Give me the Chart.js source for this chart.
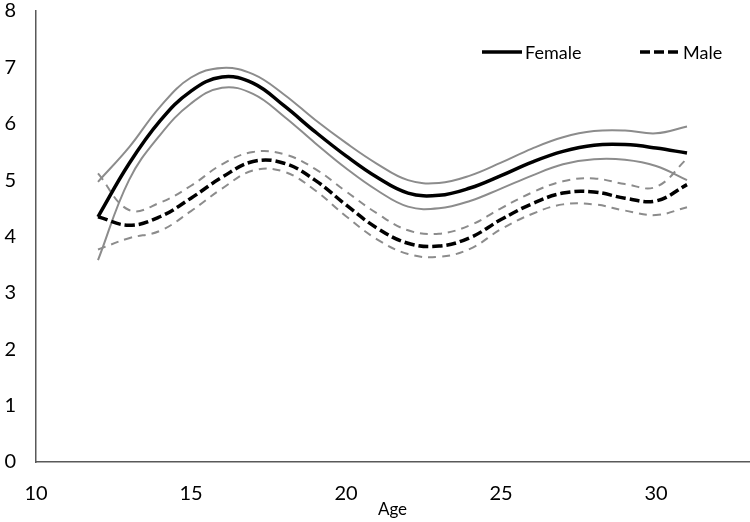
<!DOCTYPE html>
<html>
<head>
<meta charset="utf-8">
<script src="https://cdn.jsdelivr.net/npm/chart.js@4.4.1/dist/chart.umd.min.js"></script>
<style>
  html, body { margin: 0; padding: 0; background: #fff; }
  #wrap { width: 750px; height: 522px; }
</style>
</head>
<body>
<div id="wrap"><canvas id="chart" width="750" height="522"></canvas></div>
<script>
const ages = [12, 13, 14, 15, 16, 17, 18, 19, 20, 21, 22, 23, 24, 25, 26, 27, 28, 29, 30, 31];

const female      = [4.35, 5.29, 6.05, 6.58, 6.83, 6.72, 6.32, 5.86, 5.43, 5.05, 4.77, 4.73, 4.86, 5.08, 5.32, 5.51, 5.62, 5.63, 5.57, 5.48];
const femaleUpper = [4.97, 5.58, 6.30, 6.82, 6.99, 6.88, 6.52, 6.07, 5.66, 5.29, 5.00, 4.95, 5.08, 5.31, 5.56, 5.76, 5.87, 5.88, 5.83, 5.95];
const femaleLower = [3.58, 5.00, 5.80, 6.36, 6.64, 6.53, 6.13, 5.66, 5.21, 4.82, 4.53, 4.50, 4.63, 4.85, 5.08, 5.28, 5.37, 5.36, 5.25, 5.00];

const male      = [4.35, 4.20, 4.35, 4.68, 5.05, 5.33, 5.30, 5.00, 4.56, 4.15, 3.88, 3.83, 3.98, 4.30, 4.58, 4.77, 4.79, 4.68, 4.63, 4.92];
const maleUpper = [5.12, 4.47, 4.60, 4.90, 5.28, 5.50, 5.46, 5.20, 4.80, 4.41, 4.11, 4.05, 4.20, 4.50, 4.78, 4.98, 5.03, 4.93, 4.88, 5.38];
const maleLower = [3.77, 3.97, 4.10, 4.45, 4.85, 5.17, 5.15, 4.82, 4.36, 3.95, 3.69, 3.64, 3.78, 4.13, 4.40, 4.57, 4.57, 4.46, 4.38, 4.52];

const xTicks = [10, 15, 20, 25, 30];
const yTicks = [0, 1, 2, 3, 4, 5, 6, 7, 8];

const FONT = "Lato, 'Open Sans', sans-serif";
const GREY = '#8c8c8c';

function pts(values) {
    return values.map((v, i) => ({x: ages[i], y: v}));
}

function line(label, values, color, width, dash, order) {
    return {
        label: label,
        data: pts(values),
        borderColor: color,
        borderWidth: width,
        borderDash: dash,
        borderCapStyle: 'butt',
        pointRadius: 0,
        tension: 0.4,
        fill: false,
        order: order
    };
}

// legend drawn inside the plot, top right
const insideLegend = {
    id: 'insideLegend',
    afterDraw(chart) {
        const ctx = chart.ctx;
        const items = [
            {ds: chart.data.datasets[0], x: 482},
            {ds: chart.data.datasets[3], x: 640}
        ];
        const y = 52;
        ctx.save();
        ctx.font = "18px " + FONT;
        ctx.textBaseline = 'middle';
        ctx.fillStyle = '#000';
        for (const it of items) {
            ctx.beginPath();
            ctx.strokeStyle = it.ds.borderColor;
            ctx.lineWidth = it.ds.borderWidth;
            ctx.setLineDash(it.ds.borderDash);
            ctx.moveTo(it.x, y);
            ctx.lineTo(it.x + 40, y);
            ctx.stroke();
            ctx.setLineDash([]);
            ctx.fillText(it.ds.label, it.x + 43, y + 1);
        }
        ctx.restore();
    }
};

const ctx = document.getElementById('chart').getContext('2d');
new Chart(ctx, {
    type: 'line',
    data: {
        datasets: [
            line('Female', female, '#000', 3.5, [], 0),
            line('Female upper', femaleUpper, GREY, 2, [], 1),
            line('Female lower', femaleLower, GREY, 2, [], 1),
            line('Male', male, '#000', 3.5, [10, 4], 0),
            line('Male upper', maleUpper, GREY, 2, [8, 6], 1),
            line('Male lower', maleLower, GREY, 2, [8, 6], 1)
        ]
    },
    options: {
        responsive: false,
        animation: false,
        layout: {padding: {left: 0, right: 1, top: 0, bottom: 0}},
        plugins: {
            legend: {display: false},
            tooltip: {enabled: false}
        },
        scales: {
            x: {
                type: 'linear',
                min: 10,
                max: 33,
                grid: {display: false, drawTicks: false},
                border: {display: true, color: '#595959', width: 1.5},
                afterBuildTicks: axis => { axis.ticks = xTicks.map(v => ({value: v})); },
                afterFit: s => { s.height = 60; s.paddingLeft = 0; s.paddingRight = 0; },
                ticks: {
                    color: '#000',
                    padding: 22,
                    font: {family: FONT, size: 20, lineHeight: 1},
                    maxRotation: 0
                },
                title: {
                    display: true,
                    text: 'Age',
                    color: '#000',
                    font: {family: FONT, size: 17, lineHeight: 1.2},
                    padding: {top: 0, bottom: 2}
                }
            },
            y: {
                min: 0,
                max: 8,
                grid: {display: false, drawTicks: false},
                border: {display: true, color: '#595959', width: 1.5},
                afterBuildTicks: axis => { axis.ticks = yTicks.map(v => ({value: v})); },
                afterFit: s => { s.width = 36; s.paddingTop = 11; s.paddingBottom = 0; },
                ticks: {
                    color: '#000',
                    padding: 20,
                    font: {family: FONT, size: 20, lineHeight: 1}
                }
            }
        }
    },
    plugins: [insideLegend]
});
</script>
</body>
</html>
